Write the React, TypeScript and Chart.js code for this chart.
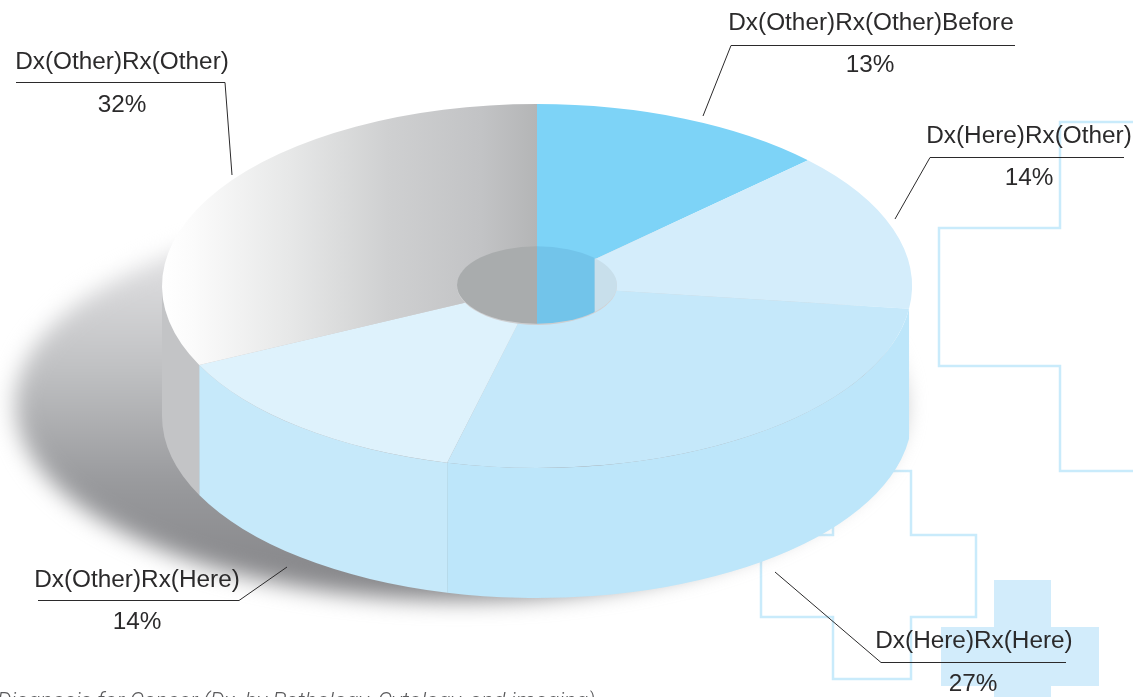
import React, { useEffect, useRef } from "react";
import { Chart, registerables } from "chart.js";

Chart.register(...registerables);

const categories = [
  "Dx(Other)Rx(Other)Before",
  "Dx(Here)Rx(Other)",
  "Dx(Here)Rx(Here)",
  "Dx(Other)Rx(Here)",
  "Dx(Other)Rx(Other)",
];
// Printed percentages, and the slightly different shares the drawn wedges actually span.
const printedPercents = ["13%", "14%", "27%", "14%", "32%"];
const wedgeShares = [12.85, 14.15, 26.85, 14.0, 32.15];
const caption = "Diagnosis for Cancer (Dx, by Pathology, Cytology, and imaging)";

const W = 1133;
const H = 697;
const SQUASH = 182 / 375;
const DEPTH = 130;

const wallColors = [null, null, "#bde6fa", "#c6e9fa", "#c3c4c6"];
const holeColors = ["#a9acad", "#72c4ea", "#c8dfeb"];

const labelLayout = [
  { cx: 871, base: 30, pctCx: 870, pctBase: 72, y: 45.5, x1: 731, x2: 1015, lx: 703, ly: 116 },
  { cx: 1029, base: 143, pctCx: 1029, pctBase: 185, y: 157.5, x1: 930, x2: 1124, lx: 895, ly: 219 },
  { cx: 974, base: 648, pctCx: 973, pctBase: 691, y: 662.5, x1: 881, x2: 1066, lx: 775, ly: 572 },
  { cx: 137, base: 587, pctCx: 137, pctBase: 629, y: 600.5, x1: 38, x2: 239, lx: 287, ly: 567 },
  { cx: 122, base: 69, pctCx: 122, pctBase: 112, y: 82.5, x1: 16, x2: 225, lx: 232, ly: 175 },
];

const outlinePaths = [
  [[1133, 122], [1060, 122], [1060, 228], [939, 228], [939, 366], [1060, 366], [1060, 471], [1133, 471]],
  [[833, 471], [911, 471], [911, 535], [976, 535], [976, 617], [911, 617], [911, 679], [833, 679], [833, 617], [761, 617], [761, 535], [833, 535], [833, 471]],
];
const filledCross = [[994, 580], [1051, 580], [1051, 627], [1099, 627], [1099, 686], [1051, 686], [1051, 697], [994, 697], [994, 686], [941, 686], [941, 627], [994, 627]];

function tracePoly(ctx: CanvasRenderingContext2D, pts: number[][]) {
  ctx.beginPath();
  pts.forEach(([x, y], i) => (i ? ctx.lineTo(x, y) : ctx.moveTo(x, y)));
}

const pie3d = {
  id: "pie3d",
  beforeDatasetsDraw(chart: any) {
    const ctx: CanvasRenderingContext2D = chart.ctx;
    const arcs = chart.getDatasetMeta(0).data;
    const { x: cx, y: cy, outerRadius: R } = arcs[0];
    const ry = R * SQUASH;

    ctx.save();
    ctx.fillStyle = "#d2ecfb";
    tracePoly(ctx, filledCross);
    ctx.closePath();
    ctx.fill();
    ctx.strokeStyle = "#c9ebfb";
    ctx.lineWidth = 2.5;
    outlinePaths.forEach((p) => {
      tracePoly(ctx, p);
      ctx.stroke();
    });
    ctx.restore();

    ctx.save();
    ctx.filter = "blur(11px)";
    const sg = ctx.createLinearGradient(0, 270, 0, 600);
    sg.addColorStop(0, "#dcdcde");
    sg.addColorStop(0.3, "#c0c1c3");
    sg.addColorStop(0.65, "#98999c");
    sg.addColorStop(1, "#838386");
    ctx.fillStyle = sg;
    ctx.beginPath();
    ctx.ellipse(cx - 78, cy + 118, 444, 196, 0, 0, Math.PI * 2);
    ctx.fill();
    ctx.restore();

    arcs.forEach((arc: any, i: number) => {
      const color = wallColors[i];
      if (!color) return;
      const a0 = Math.max(arc.startAngle, 0);
      const a1 = Math.min(arc.endAngle, Math.PI);
      if (a1 <= a0) return;
      ctx.beginPath();
      ctx.ellipse(cx, cy, R, ry, 0, a0, a1);
      ctx.ellipse(cx, cy + DEPTH, R, ry, 0, a1, a0, true);
      ctx.closePath();
      ctx.fillStyle = color;
      ctx.fill();
    });

    ctx.save();
    ctx.translate(0, cy);
    ctx.scale(1, SQUASH);
    ctx.translate(0, -cy);
  },
  afterDatasetsDraw(chart: any) {
    const ctx: CanvasRenderingContext2D = chart.ctx;
    ctx.restore();
    const arcs = chart.getDatasetMeta(0).data;
    const { x: cx, y: cy, innerRadius: r } = arcs[0];
    const hy = cy - 1;
    const split = cx + r * Math.sin(arcs[0].endAngle - arcs[0].startAngle);
    const bands = [
      [cx - r - 1, cx],
      [cx, split],
      [split, cx + r + 1],
    ];
    bands.forEach(([a, b], i) => {
      ctx.save();
      ctx.beginPath();
      ctx.rect(a, hy - r, b - a, r * 2);
      ctx.clip();
      ctx.beginPath();
      ctx.ellipse(cx, hy, r, r * SQUASH, 0, 0, Math.PI * 2);
      ctx.fillStyle = holeColors[i];
      ctx.fill();
      ctx.restore();
    });

    ctx.save();
    ctx.textAlign = "center";
    ctx.textBaseline = "alphabetic";
    ctx.fillStyle = "#2b2a2b";
    ctx.font = '24.35px "Liberation Sans"';
    categories.forEach((name, i) => {
      const l = labelLayout[i];
      ctx.fillText(name, l.cx, l.base);
      ctx.fillText(printedPercents[i], l.pctCx, l.pctBase);
      ctx.strokeStyle = "#2b2a2b";
      ctx.lineWidth = 1;
      ctx.beginPath();
      const elbow = i >= 3 ? l.x2 : l.x1;
      ctx.moveTo(l.lx, l.ly);
      ctx.lineTo(elbow, l.y);
      ctx.lineTo(elbow === l.x1 ? l.x2 : l.x1, l.y);
      ctx.stroke();
    });
    ctx.font = "italic 300 22.6px Roboto";
    ctx.fillStyle = "#5a5a5c";
    ctx.textAlign = "left";
    ctx.fillText(caption, -3, 708);
    ctx.restore();
  },
};

export default function App() {
  const ref = useRef<HTMLCanvasElement>(null);
  useEffect(() => {
    const chart = new Chart(ref.current as HTMLCanvasElement, {
      type: "doughnut",
      data: {
        labels: categories,
        datasets: [
          {
            data: wedgeShares,
            clip: false,
            borderWidth: 0,
            backgroundColor: (c: any) => {
              const flat = ["#7dd3f7", "#d4edfb", "#c5e8fa", "#def2fc"];
              if (c.dataIndex < 4) return flat[c.dataIndex];
              const g = c.chart.ctx.createLinearGradient(162, 0, 537, 0);
              g.addColorStop(0, "#ffffff");
              g.addColorStop(0.08, "#fbfbfb");
              g.addColorStop(0.35, "#e6e7e7");
              g.addColorStop(0.6, "#cfd0d1");
              g.addColorStop(0.85, "#c2c3c5");
              g.addColorStop(1, "#b4b5b6");
              return g;
            },
          } as any,
        ],
      },
      options: {
        responsive: false,
        animation: false,
        radius: 375,
        cutout: "21.33%",
        rotation: 0,
        layout: { padding: { left: 0, top: 0, right: 59, bottom: 125 } },
        plugins: { legend: { display: false }, tooltip: { enabled: false }, title: { display: false } },
      } as any,
      plugins: [pie3d],
    });
    return () => chart.destroy();
  }, []);
  return (
    <div style={{ position: "fixed", left: 0, top: 0, width: W, height: H, overflow: "hidden", background: "#fff" }}>
      <canvas ref={ref} width={W} height={H} style={{ display: "block" }} />
    </div>
  );
}
